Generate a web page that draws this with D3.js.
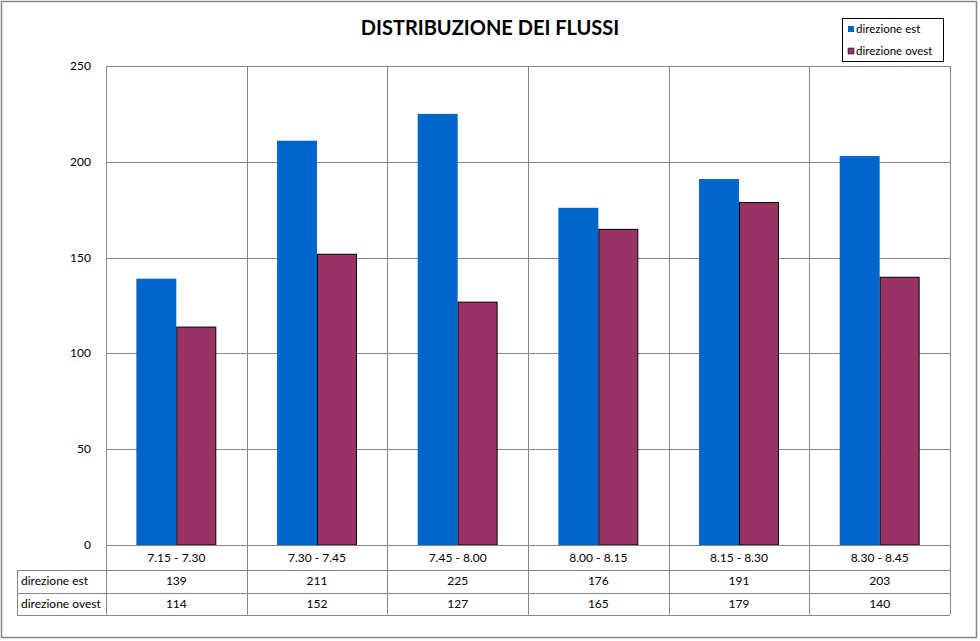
<!DOCTYPE html>
<html><head><meta charset="utf-8">
<script src="https://cdn.jsdelivr.net/npm/d3@7"></script>
<style>body{margin:0;background:#fff}svg{display:block}text{font-family:Lato,"Open Sans",sans-serif}</style>
</head><body><svg id="c" width="980" height="641"></svg>
<script>
const categories = ["7.15 - 7.30","7.30 - 7.45","7.45 - 8.00","8.00 - 8.15","8.15 - 8.30","8.30 - 8.45"];
const seriesNames = ["direzione est","direzione ovest"];
const est = [139,211,225,176,191,203];
const ovest = [114,152,127,165,179,140];
const yTicks = [0,50,100,150,200,250];
const colors = ["#0066CC","#993366"];
const values = [est, ovest];

const svg = d3.select("#c");
const L=106, R=950, T=66, B=545;
svg.append("rect").attr("x",1.5).attr("y",1.5).attr("width",975).attr("height",636).attr("fill","#fff").attr("stroke","#868686").attr("stroke-width",1.5);

const x = d3.scaleBand().domain(categories).range([L,R]);
const xs = d3.scaleBand().domain(seriesNames).range([0,x.bandwidth()]).paddingInner(0).paddingOuter(0.76);
const y = d3.scaleLinear().domain([0,250]).range([B,T]);

// gridlines
svg.append("g").selectAll("line").data(yTicks).join("line")
 .attr("x1",L).attr("x2",R).attr("y1",d=>Math.round(y(d))+0.5).attr("y2",d=>Math.round(y(d))+0.5)
 .attr("stroke","#868686");
// vertical separators extend to table
const rowY=[B,570,592.5,614.5];
svg.append("g").selectAll("line").data(categories.map(c=>x(c)).concat([R])).join("line")
 .attr("x1",d=>Math.round(d)+0.5).attr("x2",d=>Math.round(d)+0.5).attr("y1",T).attr("y2",rowY[3])
 .attr("stroke","#868686");

// y axis labels
svg.append("g").selectAll("text").data(yTicks).join("text")
 .attr("x",91).attr("y",d=>y(d)+4).attr("text-anchor","end").attr("font-size",12).attr("fill","#000").text(d=>d);

// bars
values.forEach((vals,si)=>{
  svg.append("g").selectAll("rect").data(vals).join("rect")
   .attr("x",(d,i)=>x(categories[i])+xs(seriesNames[si])+(si?0.5:0))
   .attr("y",d=>y(d)+(si?0.5:0))
   .attr("width",xs.bandwidth()-(si?1:0))
   .attr("height",d=>B-y(d)-(si?0.5:0))
   .attr("fill",colors[si])
   .attr("stroke",si?"#000":"none").attr("stroke-width",1);
});

// table
svg.append("line").attr("x1",L).attr("x2",R).attr("y1",B+0.5).attr("y2",B+0.5).attr("stroke","#868686");
[1,2,3].forEach(k=>svg.append("line").attr("x1",17).attr("x2",R).attr("y1",Math.round(rowY[k])+0.5).attr("y2",Math.round(rowY[k])+0.5).attr("stroke","#868686"));
svg.append("line").attr("x1",17.5).attr("x2",17.5).attr("y1",570.5).attr("y2",614.5).attr("stroke","#868686");
svg.append("g").selectAll("text").data(categories).join("text")
 .attr("x",d=>x(d)+x.bandwidth()/2).attr("y",562).attr("text-anchor","middle").attr("font-size",12).text(d=>d);
values.forEach((vals,si)=>{
  const cy = (rowY[si+1]+rowY[si+2])/2+4;
  svg.append("text").attr("x",21).attr("y",cy).attr("font-size",12).text(seriesNames[si]);
  svg.append("g").selectAll("text").data(vals).join("text")
   .attr("x",(d,i)=>x(categories[i])+x.bandwidth()/2).attr("y",cy).attr("text-anchor","middle").attr("font-size",12).text(d=>d);
});

// title
svg.append("text").attr("x",490).attr("y",35).attr("text-anchor","middle").attr("font-size",20).attr("font-weight","bold").text("DISTRIBUZIONE DEI FLUSSI");

// legend
const lg = svg.append("g");
lg.append("rect").attr("x",842.5).attr("y",18.5).attr("width",101).attr("height",43).attr("fill","#fff").attr("stroke","#000");
seriesNames.forEach((n,i)=>{
  const ly = 29 + i*22;
  lg.append("rect").attr("x",848).attr("y",ly-3).attr("width",6).attr("height",6).attr("fill",colors[i]).attr("stroke",i?"#000":"none").attr("stroke-width",0.5);
  lg.append("text").attr("x",856).attr("y",ly+4).attr("font-size",11.5).text(n);
});
</script></body></html>
